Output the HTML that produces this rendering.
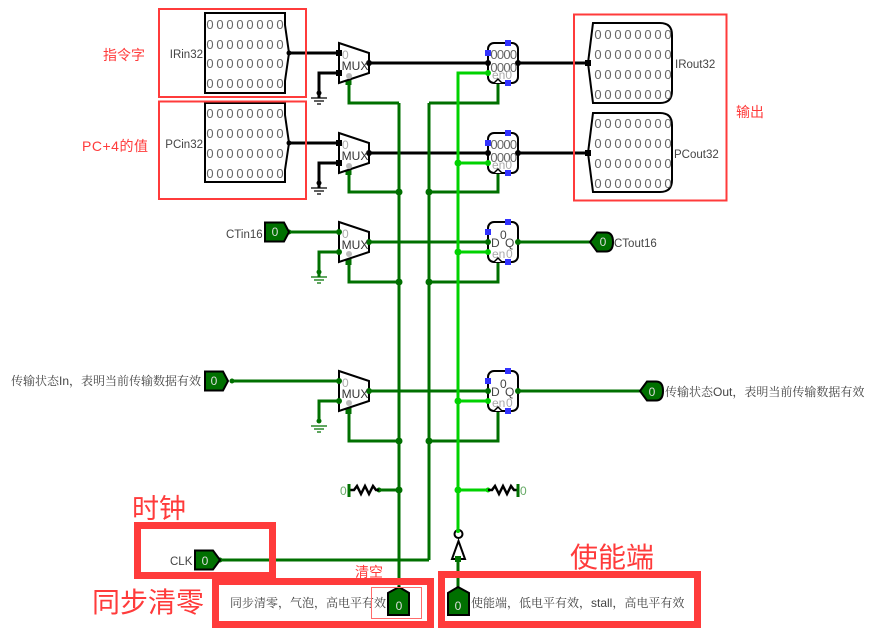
<!DOCTYPE html>
<html><head><meta charset="utf-8"><style>
html,body{margin:0;padding:0;background:#fff}
svg{display:block}
text{font-family:"Liberation Sans","Noto Sans CJK SC",sans-serif}
.d{font-size:13px;fill:#666;text-anchor:middle}
.l{font-size:11.5px;fill:#444}
.c{font-family:"Liberation Sans","Noto Serif CJK SC",serif;font-size:12px;fill:#444}
.g{fill:none;stroke:#007000;stroke-width:3}
.b{fill:none;stroke:#000;stroke-width:3}
.e{fill:none;stroke:#00d200;stroke-width:3}
.s{fill:#fff;stroke:#000;stroke-width:2}
.r{fill:none;stroke:#ff3b3b}
.rt{fill:#ff3b3b}
.gnd{stroke-width:1.3;fill:none}
.pin{fill:#007000;stroke:#000;stroke-width:2}
.pt{font-size:12px;fill:#ddd;text-anchor:middle}
.mu{font-size:12px;fill:#333;text-anchor:middle}
.gr{font-size:12px;fill:#aaa}
</style></head><body>
<svg width="871" height="628" viewBox="0 0 871 628" xmlns="http://www.w3.org/2000/svg">
<!-- black wires -->
<path class="b" d="M289 53H339M319 98V73H339M369 63H488M518 63H588M289 143H339M319 188V163H339M369 153H488M518 153H588"/>
<!-- dark green wires -->
<path class="g" d="M349 80V103H399M349 170V192H399M399 103V590M429 560V103M498 83V103H429M498 173V192H429M349 262V282H399M498 262V282H429M349 411V441H399M498 411V441H429"/>
<path class="g" d="M289 232H339M319 277V252H339M369 242H488M518 242H590M232 381H339M319 421V401H339M369 391H488M518 391H640M220 560H429M399 490H379M458 559V590"/>
<!-- bright green wires -->
<path class="e" d="M488 73H458V530M488 163H458M488 252H458M488 401H458M458 490H488"/>
<!-- junctions -->
<g fill="#007000">
<circle cx="399" cy="192" r="3.5"/><circle cx="429" cy="192" r="3.5"/>
<circle cx="399" cy="282" r="3.5"/><circle cx="429" cy="282" r="3.5"/>
<circle cx="399" cy="441" r="3.5"/><circle cx="429" cy="441" r="3.5"/>
<circle cx="399" cy="490" r="3.5"/><circle cx="379" cy="490" r="2.5"/>
<circle cx="319" cy="272" r="2.5"/><circle cx="319" cy="421" r="2.5"/>
<rect x="345.500" y="259" width="6" height="6"/><rect x="345.500" y="408" width="6" height="6"/>
<rect x="345.500" y="79" width="6" height="6"/><rect x="345.500" y="169" width="6" height="6"/>
<circle cx="289" cy="232" r="2.500"/><circle cx="232" cy="381" r="2.500"/><circle cx="220" cy="560" r="2.500"/>
</g>
<g fill="#00d200">
<circle cx="458" cy="163" r="3.500"/><circle cx="458" cy="252" r="3.500"/><circle cx="458" cy="401" r="3.500"/><circle cx="458" cy="490" r="3.500"/><circle cx="488" cy="490" r="2.500"/>
</g>
<!-- grounds -->
<g class="gnd" stroke="#000"><path d="M311 98H327M314 101H324M317 104H321M311 188H327M314 191H324M317 194H321"/></g>
<g class="gnd" stroke="#007000"><path d="M311 277H327M314 280H324M317 283H321M311 426H327M314 429H324M317 432H321"/></g>
<circle cx="319" cy="93" r="2.500"/><circle cx="319" cy="183" r="2.500"/>
<!-- input pins 32 -->
<path class="s" d="M205 13H285V25L289 53L285 81V93H205Z"/>
<path class="s" d="M205 103H285V115L289 143L285 170V182H205Z"/>
<circle cx="289" cy="53" r="2.500"/><circle cx="289" cy="143" r="2.500"/>
<g class="d">
<text x="210 220 230 240 250 260 270 280" y="29">00000000</text>
<text x="210 220 230 240 250 260 270 280" y="49">00000000</text>
<text x="210 220 230 240 250 260 270 280" y="68">00000000</text>
<text x="210 220 230 240 250 260 270 280" y="88">00000000</text>
<text x="210 220 230 240 250 260 270 280" y="118">00000000</text>
<text x="210 220 230 240 250 260 270 280" y="138">00000000</text>
<text x="210 220 230 240 250 260 270 280" y="158">00000000</text>
<text x="210 220 230 240 250 260 270 280" y="178">00000000</text>
</g>
<text class="l" x="203" y="58" text-anchor="end">IRin32</text>
<text class="l" x="203" y="148" text-anchor="end">PCin32</text>
<!-- output pins 32 -->
<path class="s" d="M593 23H660Q672 23 672 35V91Q672 103 660 103H593L588 63Z"/>
<path class="s" d="M593 113H660Q672 113 672 125V180Q672 192 660 192H593L588 153Z"/>
<rect x="585" y="60" width="6" height="6"/><rect x="585" y="150" width="6" height="6"/>
<g class="d">
<text x="598 608 618 628 638 648 658 668" y="39">00000000</text>
<text x="598 608 618 628 638 648 658 668" y="59">00000000</text>
<text x="598 608 618 628 638 648 658 668" y="79">00000000</text>
<text x="598 608 618 628 638 648 658 668" y="99">00000000</text>
<text x="598 608 618 628 638 648 658 668" y="128">00000000</text>
<text x="598 608 618 628 638 648 658 668" y="148">00000000</text>
<text x="598 608 618 628 638 648 658 668" y="168">00000000</text>
<text x="598 608 618 628 638 648 658 668" y="188">00000000</text>
</g>
<text class="l" x="675" y="68">IRout32</text>
<text class="l" x="674" y="158">PCout32</text>
<!-- MUXes -->
<path class="s" d="M339 43L369 53V73L339 83Z"/>
<path class="s" d="M339 133L369 143V163L339 173Z"/>
<path class="s" d="M339 222L369 232V252L339 262Z"/>
<path class="s" d="M339 371L369 381V401L339 411Z"/>
<g fill="#000">
<rect x="336" y="50" width="6" height="6"/><rect x="336" y="70" width="6" height="6"/><rect x="336" y="140" width="6" height="6"/><rect x="336" y="160" width="6" height="6"/>
<circle cx="369" cy="63" r="3"/><circle cx="369" cy="153" r="3"/>
</g>
<g fill="#007000">
<circle cx="339" cy="232" r="3"/><circle cx="339" cy="252" r="3"/><circle cx="339" cy="381" r="3"/><circle cx="339" cy="401" r="3"/>
<circle cx="369" cy="242" r="3"/><circle cx="369" cy="391" r="3"/>
</g>
<g fill="#bbb"><circle cx="349" cy="76" r="3"/><circle cx="349" cy="166" r="3"/><circle cx="349" cy="254" r="3"/><circle cx="349" cy="403" r="3"/></g>
<text class="gr" x="342" y="59">0</text><text class="gr" x="342" y="149">0</text><text class="gr" x="342" y="238">0</text><text class="gr" x="342" y="387">0</text>
<text class="mu" x="355" y="70">MUX</text><text class="mu" x="355" y="160">MUX</text><text class="mu" x="355" y="249">MUX</text><text class="mu" x="355" y="398">MUX</text>
<!-- registers -->
<rect class="s" x="488" y="43" width="30" height="40" rx="6"/>
<rect class="s" x="488" y="133" width="30" height="40" rx="6"/>
<rect class="s" x="488" y="222" width="30" height="40" rx="6"/>
<rect class="s" x="488" y="371" width="30" height="40" rx="6"/>
<path fill="#fff" stroke="#000" stroke-width="1.500" d="M494 83L498 79L502 83M494 173L498 169L502 173M494 262L498 258L502 262M494 411L498 407L502 411"/>
<g fill="#000"><circle cx="488" cy="63" r="3"/><circle cx="518" cy="63" r="3"/><circle cx="488" cy="153" r="3"/><circle cx="518" cy="153" r="3"/></g>
<g fill="#007000"><circle cx="488" cy="242" r="3"/><circle cx="518" cy="242" r="3"/><circle cx="488" cy="391" r="3"/><circle cx="518" cy="391" r="3"/></g>
<g fill="#00d200"><circle cx="488" cy="73" r="3"/><circle cx="488" cy="163" r="3"/><circle cx="488" cy="252" r="3"/><circle cx="488" cy="401" r="3"/></g>
<g fill="#3333ff">
<rect x="505" y="40" width="6" height="6"/><rect x="485" y="50" width="6" height="6"/><rect x="505" y="80" width="6" height="6"/>
<rect x="505" y="130" width="6" height="6"/><rect x="485" y="140" width="6" height="6"/><rect x="505" y="170" width="6" height="6"/>
<rect x="505" y="219" width="6" height="6"/><rect x="485" y="229" width="6" height="6"/><rect x="505" y="259" width="6" height="6"/>
<rect x="505" y="368" width="6" height="6"/><rect x="485" y="378" width="6" height="6"/><rect x="505" y="408" width="6" height="6"/>
</g>
<g class="d">
<text x="494 500.500 507 513.500" y="59">0000</text><text x="494 500.500 507 513.500" y="72">0000</text>
<text x="494 500.500 507 513.500" y="149">0000</text><text x="494 500.500 507 513.500" y="162">0000</text>
</g>
<g class="gr"><text x="492" y="79">en0</text><text x="492" y="169">en0</text><text x="492" y="258">en</text><text x="492" y="407">en</text><text x="506" y="258">0</text><text x="506" y="407">0</text></g>
<g class="l" style="font-size:12px">
<text x="491" y="247">D</text><text x="505" y="247">Q</text><text x="500" y="239">0</text>
<text x="491" y="396">D</text><text x="505" y="396">Q</text><text x="500" y="388">0</text>
</g>
<!-- small pins -->
<path class="pin" d="M265 222.500H284L289 232L284 241.500H265Z"/><text class="pt" x="275" y="236">0</text>
<path class="pin" d="M205 371.500H223L228 381L223 390.500H205Z"/><text class="pt" x="214" y="385">0</text>
<path class="pin" d="M195 550.500H213L220 560L213 569.500H195Z"/><text class="pt" x="205" y="565">0</text>
<path class="pin" d="M590 242L597 232.500H606Q613 232.500 613 242Q613 251.500 606 251.500H597Z"/><text class="pt" x="603" y="246">0</text>
<path class="pin" d="M640 391L647 381.500H656Q663 381.500 663 391Q663 400.500 656 400.500H647Z"/><text class="pt" x="652" y="396">0</text>
<path class="pin" d="M399 587L409 593V615H388V593Z"/><text class="pt" x="399" y="610">0</text>
<path class="pin" d="M458 587L469 593V615H448V593Z"/><text class="pt" x="458" y="610">0</text>
<!-- resistors -->
<path fill="none" stroke="#000" stroke-width="2.500" d="M379 490L376 490L373 486L369 494L365 486L361 494L357 486L354 490H350"/>
<path stroke="#007000" stroke-width="3" d="M349 484V497"/>
<text x="340" y="495" style="font-size:12px;fill:#6a6">0</text>
<path fill="none" stroke="#000" stroke-width="2.500" d="M488 490H492L495 486L499 494L503 486L507 494L511 486L514 490H517"/>
<path stroke="#007000" stroke-width="3" d="M518 484V497"/>
<text x="520" y="495" style="font-size:12px;fill:#6a6">0</text>
<!-- inverter -->
<circle cx="458.500" cy="534" r="4" fill="#fff" stroke="#000" stroke-width="2"/>
<circle cx="458" cy="531" r="2" fill="#00d200"/>
<path class="s" d="M458.500 541L452 559H465Z"/>
<rect x="455" y="556" width="6" height="6" fill="#007000"/>
<!-- labels -->
<text class="l" x="226" y="238">CTin16</text>
<text class="l" x="170" y="565">CLK</text>
<text class="l" x="614" y="247">CTout16</text>
<text class="c" x="11" y="385">传输状态In，表明当前传输数据有效</text>
<text class="c" x="665" y="396">传输状态Out，表明当前传输数据有效</text>
<text class="c" x="230" y="607">同步清零，气泡，高电平有效</text>
<text class="c" x="471" y="607">使能端，低电平有效，stall，高电平有效</text>
<!-- red annotations -->
<g class="r" stroke-width="2">
<rect x="159" y="9" width="147" height="88"/>
<rect x="159" y="101.500" width="147" height="97.500"/>
<rect x="574" y="14.500" width="152.500" height="186"/>
</g>
<rect x="371.500" y="587.500" width="50" height="31" fill="none" stroke="#ff6b6b" stroke-width="1"/>
<text class="rt" x="103" y="60" style="font-size:14px">指令字</text>
<text class="rt" x="82" y="151" style="font-size:14px" textLength="66">PC+4的值</text>
<text class="rt" x="736" y="117" style="font-size:14px">输出</text>
<text class="rt" x="355" y="577" style="font-size:14px">清空</text>
<text class="rt" x="132" y="518" style="font-size:27px">时钟</text>
<text class="rt" x="92" y="612" style="font-size:28px">同步清零</text>
<text class="rt" x="570" y="567" style="font-size:28px">使能端</text>
<g class="r" stroke-width="7">
<rect x="137.500" y="525.500" width="135" height="50"/>
<path d="M215.500 628V581.500H430.500V628M215.500 624.500H430.500"/>
<rect x="441.500" y="574.500" width="256" height="50"/>
</g>
</svg>
</body></html>
